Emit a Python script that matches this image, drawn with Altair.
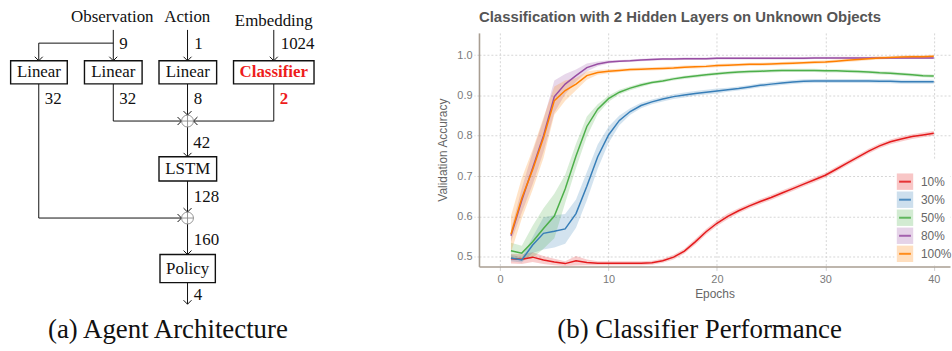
import altair as alt
import pandas as pd

# ---------------------------------------------------------------- data
epochs = list(range(1, 41))
series_names = ["10%", "30%", "50%", "80%", "100%"]
series_colors = ["#e41a1c", "#377eb8", "#4daf4a", "#984ea3", "#ff7f00"]

acc_10 = [0.495, 0.494, 0.499, 0.492, 0.487, 0.483, 0.490, 0.486, 0.484, 0.484,
          0.484, 0.484, 0.484, 0.485, 0.490, 0.499, 0.514, 0.537, 0.562, 0.583,
          0.600, 0.614, 0.626, 0.637, 0.647, 0.658, 0.669, 0.680, 0.691, 0.702,
          0.717, 0.732, 0.747, 0.762, 0.775, 0.785, 0.792, 0.798, 0.802, 0.806]
acc_30 = [0.497, 0.492, 0.529, 0.558, 0.563, 0.569, 0.607, 0.675, 0.748, 0.802,
          0.838, 0.860, 0.875, 0.884, 0.891, 0.897, 0.901, 0.905, 0.908, 0.911,
          0.914, 0.917, 0.921, 0.925, 0.928, 0.931, 0.933, 0.935, 0.936, 0.936,
          0.936, 0.936, 0.936, 0.936, 0.935, 0.935, 0.934, 0.934, 0.934, 0.934]
acc_50 = [0.515, 0.509, 0.537, 0.570, 0.601, 0.668, 0.750, 0.823, 0.866, 0.892,
          0.908, 0.918, 0.926, 0.932, 0.936, 0.941, 0.945, 0.948, 0.951, 0.954,
          0.956, 0.958, 0.959, 0.960, 0.961, 0.962, 0.962, 0.962, 0.962, 0.961,
          0.961, 0.960, 0.959, 0.958, 0.956, 0.955, 0.953, 0.951, 0.949, 0.948]
acc_80 = [0.552, 0.640, 0.720, 0.800, 0.897, 0.928, 0.949, 0.969, 0.978, 0.983,
          0.985, 0.986, 0.988, 0.989, 0.990, 0.990, 0.991, 0.991, 0.991, 0.992,
          0.992, 0.992, 0.992, 0.992, 0.992, 0.992, 0.992, 0.992, 0.993, 0.993,
          0.993, 0.993, 0.993, 0.993, 0.993, 0.993, 0.993, 0.993, 0.993, 0.993]
acc_100 = [0.556, 0.645, 0.716, 0.795, 0.887, 0.912, 0.928, 0.949, 0.957, 0.960,
           0.962, 0.964, 0.965, 0.966, 0.967, 0.968, 0.970, 0.971, 0.972, 0.974,
           0.975, 0.976, 0.977, 0.977, 0.978, 0.979, 0.980, 0.981, 0.982, 0.983,
           0.985, 0.987, 0.989, 0.991, 0.993, 0.994, 0.995, 0.996, 0.996, 0.997]

# half-width of the shaded band around each curve
spread_10 = [0.012, 0.012, 0.012, 0.010, 0.008, 0.006, 0.012, 0.007, 0.005, 0.005,
             0.005, 0.005, 0.005, 0.005, 0.005, 0.006, 0.006, 0.007, 0.007, 0.007,
             0.007, 0.006, 0.006, 0.006, 0.006, 0.006, 0.006, 0.006, 0.006, 0.006,
             0.006, 0.006, 0.006, 0.006, 0.006, 0.006, 0.006, 0.006, 0.006, 0.006]
spread_30 = [0.008, 0.006, 0.020, 0.040, 0.040, 0.037, 0.035, 0.035, 0.030, 0.020,
             0.012, 0.008, 0.007, 0.006, 0.006, 0.006, 0.006, 0.006, 0.006, 0.006,
             0.005, 0.005, 0.005, 0.005, 0.005, 0.005, 0.005, 0.005, 0.005, 0.005,
             0.005, 0.005, 0.005, 0.005, 0.005, 0.005, 0.005, 0.005, 0.005, 0.005]
spread_50 = [0.020, 0.018, 0.040, 0.050, 0.055, 0.035, 0.030, 0.025, 0.012, 0.008,
             0.006, 0.005, 0.005, 0.004, 0.004, 0.004, 0.004, 0.004, 0.004, 0.004,
             0.004, 0.004, 0.004, 0.004, 0.004, 0.004, 0.004, 0.004, 0.004, 0.004,
             0.004, 0.004, 0.004, 0.004, 0.004, 0.004, 0.004, 0.004, 0.004, 0.004]
spread_80 = [0.015, 0.030, 0.040, 0.040, 0.040, 0.025, 0.015, 0.010, 0.006, 0.004,
             0.003, 0.003, 0.003, 0.003, 0.003, 0.003, 0.003, 0.003, 0.003, 0.003,
             0.003, 0.003, 0.003, 0.003, 0.003, 0.003, 0.003, 0.003, 0.003, 0.003,
             0.003, 0.003, 0.003, 0.003, 0.003, 0.003, 0.003, 0.003, 0.003, 0.003]
spread_100 = [0.045, 0.050, 0.050, 0.050, 0.035, 0.025, 0.015, 0.010, 0.006, 0.005,
              0.004, 0.004, 0.004, 0.004, 0.004, 0.004, 0.004, 0.004, 0.004, 0.004,
              0.004, 0.004, 0.004, 0.004, 0.004, 0.004, 0.004, 0.004, 0.004, 0.004,
              0.004, 0.004, 0.004, 0.004, 0.004, 0.004, 0.004, 0.004, 0.004, 0.004]

y_ticks = [0.5, 0.6, 0.7, 0.8, 0.9, 1.0]
x_ticks = [0, 10, 20, 30, 40]

chart_title = "Classification with 2 Hidden Layers on Unknown Objects"
caption_a = "(a) Agent Architecture"
caption_b = "(b) Classifier Performance"

# architecture diagram: node names and tensor sizes
input_names = ["Observation", "Action", "Embedding"]
box_names = ["Linear", "Linear", "Linear", "Classifier", "LSTM", "Policy"]
edge_sizes = ["9", "1", "1024", "32", "32", "8", "2", "42", "128", "160", "4"]

# ---------------------------------------------------------------- diagram layout (diagram units)
input_pos = [(113, 21.5), (188.5, 21.5), (275.5, 25.5)]
box_pos = [(10.7, 67.7, 60, 83.3), (85, 143, 60, 83.3), (160, 218, 60, 83.3),
           (235, 316, 60, 83.3), (160, 218, 156.7, 181), (161, 216.7, 255, 283.3)]
box_highlight = [False, False, False, True, False, False]
size_pos = [(120, 43), (195.5, 43), (282.5, 43), (45, 99), (120, 99), (195, 99),
            (281.5, 99), (194.5, 143), (195, 196.7), (195, 240), (195, 296)]
size_highlight = [False, False, False, False, False, False, True,
                  False, False, False, False]
segments = [
    (114, 29, 114, 60), (114, 42.3, 39, 42.3), (39, 42.3, 39, 60),
    (188.7, 29, 188.7, 60), (275.5, 29, 275.5, 60),
    (114, 83.3, 114, 120.7), (114, 120.7, 182.7, 120.7),
    (188.7, 83.3, 188.7, 114.7),
    (275.5, 83.3, 275.5, 120.7), (275.5, 120.7, 194.7, 120.7),
    (188.7, 126.7, 188.7, 156.7), (188.7, 181, 188.7, 212.3),
    (39, 83.3, 39, 218.3), (39, 218.3, 182.7, 218.3),
    (188.7, 224.3, 188.7, 255), (188.7, 283.3, 188.7, 305),
]
arrow_tips = [(114, 60, "down"), (39, 60, "down"), (188.7, 60, "down"),
              (275.5, 60, "down"), (182.7, 120.7, "right"), (188.7, 114.7, "down"),
              (194.7, 120.7, "left"), (188.7, 156.7, "down"), (188.7, 212.3, "down"),
              (182.7, 218.3, "right"), (188.7, 255, "down"), (188.7, 305, "down")]
sum_nodes = [(188.7, 120.7), (188.7, 218.3)]
caption_a_pos = (169, 331)

ARROW_PATHS = {"down": "M-1,-1L0,0L1,-1", "right": "M-1,-1L0,0L-1,1", "left": "M1,-1L0,0L1,1"}
OPLUS_PATH = "M-1,0A1,1,0,1,1,1,0A1,1,0,1,1,-1,0ZM-1,0L1,0M0,-1L0,1"
DASH_PATH = "M-0.72,0L0.72,0"

SERIF = "Liberation Serif"
SANS = "Liberation Sans"

TOP_PAD = 7
DIAG_W, DIAG_TOP, DIAG_BOTTOM = 330, 32, 351
xs = alt.Scale(domain=[0, DIAG_W], nice=False, zero=False)
ys = alt.Scale(domain=[DIAG_TOP, DIAG_BOTTOM], nice=False, zero=False, reverse=True)


def dx(f):
    return alt.X(f, type="quantitative", scale=xs, axis=None)


def dy(f):
    return alt.Y(f, type="quantitative", scale=ys, axis=None)


boxes = pd.DataFrame({
    "name": box_names,
    "x1": [b[0] for b in box_pos], "x2": [b[1] for b in box_pos],
    "y1": [b[2] for b in box_pos], "y2": [b[3] for b in box_pos],
    "hl": box_highlight,
})
boxes["xc"] = (boxes.x1 + boxes.x2) / 2
boxes["yc"] = (boxes.y1 + boxes.y2) / 2

inputs = pd.DataFrame({"name": input_names,
                       "x": [p[0] for p in input_pos], "y": [p[1] for p in input_pos]})
sizes = pd.DataFrame({"t": edge_sizes, "x": [p[0] for p in size_pos],
                      "y": [p[1] for p in size_pos], "hl": size_highlight})
segs = pd.DataFrame(segments, columns=["x", "y", "x2", "y2"])
tips = pd.DataFrame(arrow_tips, columns=["x", "y", "dir"])
tips["shape"] = tips["dir"].map(ARROW_PATHS)
sums = pd.DataFrame(sum_nodes, columns=["x", "y"])
cap_a = pd.DataFrame({"t": [caption_a], "x": [caption_a_pos[0]], "y": [caption_a_pos[1]]})

wires = alt.Chart(segs).mark_rule(color="#111111", strokeWidth=1).encode(
    x=dx("x"), y=dy("y"), x2="x2", y2="y2")
heads = alt.Chart(tips).mark_point(filled=False, size=64, strokeWidth=1,
                                   color="#111111", opacity=1).encode(
    x=dx("x"), y=dy("y"), shape=alt.Shape("shape:N", scale=None, legend=None))
oplus = alt.Chart(sums).mark_point(filled=False, size=144, strokeWidth=0.9,
                                   color="#8a8a8a", opacity=1, shape=OPLUS_PATH).encode(
    x=dx("x"), y=dy("y"))
rects = alt.Chart(boxes).mark_rect(fill="white", stroke="#111111", strokeWidth=1.4).encode(
    x=dx("x1"), x2="x2", y=dy("y1"), y2="y2")
box_text = alt.Chart(boxes).transform_filter("!datum.hl").mark_text(
    font=SERIF, fontSize=17, color="#111111").encode(
    x=dx("xc"), y=dy("yc"), text="name:N")
box_text_hl = alt.Chart(boxes).transform_filter("datum.hl").mark_text(
    font=SERIF, fontSize=17, fontWeight="bold", color="#ee1c1c").encode(
    x=dx("xc"), y=dy("yc"), text="name:N")
input_text = alt.Chart(inputs).mark_text(
    font=SERIF, fontSize=17, color="#111111", baseline="alphabetic").encode(
    x=dx("x"), y=dy("y"), text="name:N")
size_text = alt.Chart(sizes).transform_filter("!datum.hl").mark_text(
    font=SERIF, fontSize=17, color="#111111", align="left").encode(
    x=dx("x"), y=dy("y"), text="t:N")
size_text_hl = alt.Chart(sizes).transform_filter("datum.hl").mark_text(
    font=SERIF, fontSize=17, fontWeight="bold", color="#ee1c1c", align="left").encode(
    x=dx("x"), y=dy("y"), text="t:N")
cap_a_text = alt.Chart(cap_a).mark_text(font=SERIF, fontSize=27, color="#111111").encode(
    x=dx("x"), y=dy("y"), text="t:N")

diagram = alt.layer(wires, heads, oplus, rects, box_text, box_text_hl,
                    input_text, size_text, size_text_hl, cap_a_text).properties(
    width=DIAG_W, height=DIAG_BOTTOM - DIAG_TOP)

# ---------------------------------------------------------------- accuracy curves
rows = []
for name, vals, spr in zip(series_names,
                           [acc_10, acc_30, acc_50, acc_80, acc_100],
                           [spread_10, spread_30, spread_50, spread_80, spread_100]):
    for e, v, s in zip(epochs, vals, spr):
        rows.append({"epoch": e, "series": name, "acc": v, "lo": v - s, "hi": v + s})
df = pd.DataFrame(rows)

PLOT_W, PLOT_H = 474, 235
x_scale = alt.Scale(domain=[-1.95, 41.5], nice=False, zero=False)
y_scale = alt.Scale(domain=[0.476, 1.055], nice=False, zero=False)
fill_scale = alt.Scale(domain=series_names, range=series_colors)
stroke_scale = alt.Scale(domain=series_names, range=series_colors)

x_axis = alt.Axis(values=x_ticks, format="d", title="Epochs", titlePadding=4,
                  tickSize=4, labelPadding=3)
y_axis = alt.Axis(values=y_ticks, format=".1f", title="Validation Accuracy",
                  titlePadding=7, tickSize=5, labelPadding=2, tickDash=[2, 2])

band = alt.Chart(df).mark_area(fillOpacity=0.22, strokeWidth=0).encode(
    x=alt.X("epoch:Q", scale=x_scale, axis=x_axis),
    y=alt.Y("lo:Q", scale=y_scale, axis=y_axis),
    y2="hi:Q",
    fill=alt.Fill("series:N", scale=fill_scale, legend=None),
    detail="series:N",
)
lines = alt.Chart(df).mark_line(strokeWidth=1.5).encode(
    x=alt.X("epoch:Q", scale=x_scale, axis=x_axis),
    y=alt.Y("acc:Q", scale=y_scale, axis=y_axis),
    stroke=alt.Stroke("series:N", scale=stroke_scale, legend=None),
)
plot = alt.layer(band, lines)

# legend in the lower-right corner: white panel, shaded key squares with a
# stroke across them, and the series labels
key_df = pd.DataFrame({"series": series_names})
key_y = alt.Y("series:N", axis=None,
              scale=alt.Scale(type="point", domain=series_names,
                              range=[149.7, 222.3], padding=0))
key_panel = alt.Chart(pd.DataFrame({"k": [0]})).mark_rect(fill="white").encode(
    x=alt.value(418), x2=alt.value(PLOT_W), y=alt.value(128), y2=alt.value(PLOT_H - 1))
key_sq = alt.Chart(key_df).mark_square(size=272, opacity=0.25).encode(
    x=alt.value(428.7), y=key_y, fill=alt.Fill("series:N", scale=fill_scale, legend=None))
key_ln = alt.Chart(key_df).mark_point(shape=DASH_PATH, size=272, filled=False,
                                      strokeWidth=2, opacity=0.85).encode(
    x=alt.value(428.7), y=key_y,
    stroke=alt.Stroke("series:N", scale=stroke_scale, legend=None))
key_tx = alt.Chart(key_df).mark_text(align="left", font=SANS, fontSize=12,
                                     color="#666666").encode(
    x=alt.value(444.7), y=key_y, text="series:N")
key = alt.layer(key_panel, key_sq, key_ln, key_tx)

cap_b = alt.Chart(pd.DataFrame({"t": [caption_b]})).mark_text(
    font=SERIF, fontSize=27, color="#111111").encode(
    x=alt.value(222), y=alt.value(299), text="t:N")

curves = alt.layer(plot, key, cap_b).resolve_scale(
    x="independent", y="independent"
).properties(
    width=PLOT_W, height=PLOT_H,
    title=alt.TitleParams(chart_title, anchor="start", frame="group", font=SANS,
                          fontSize=15, fontWeight="bold", color="#555555", offset=8),
)

chart = alt.hconcat(diagram, curves, spacing=109).properties(
    padding={"top": TOP_PAD, "left": 0, "right": 0, "bottom": 0},
    background="white",
).configure_view(stroke=None).configure_axis(
    domainColor="#a89e92", domainWidth=1.6,
    labelFont=SANS, labelFontSize=11, labelColor="#7a7a7a",
    titleFont=SANS, titleFontSize=12, titleFontWeight="normal", titleColor="#666666",
    grid=True, gridColor="#d6d6d6", gridDash=[2, 2], gridWidth=1,
    tickColor="#cfcfcf",
)

chart.save("out.html", embed_options={"renderer": "svg", "actions": False})
